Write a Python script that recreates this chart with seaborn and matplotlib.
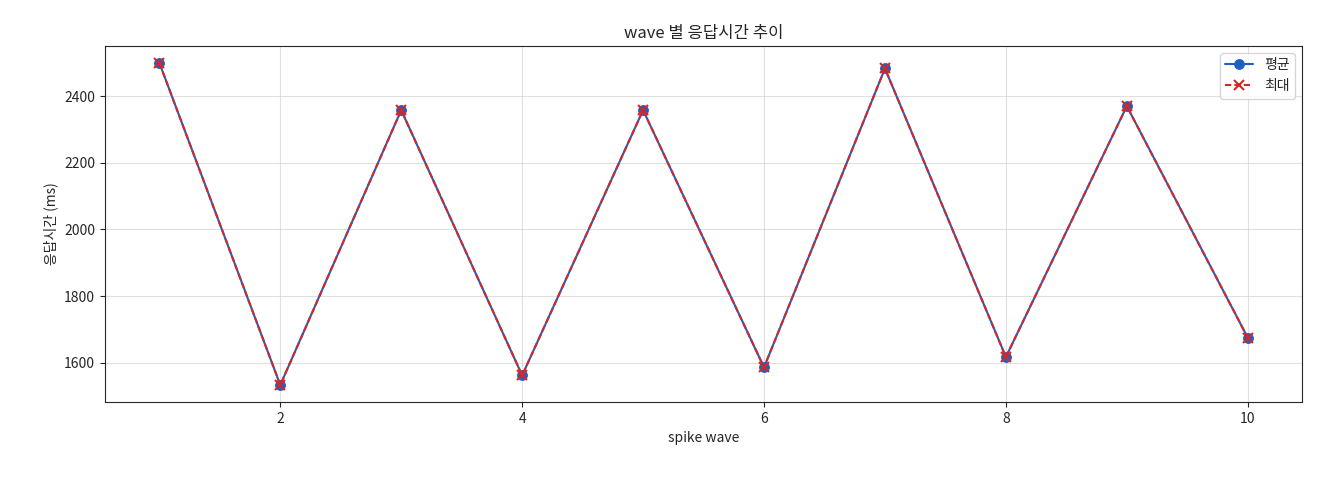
import matplotlib
matplotlib.use("Agg")
import matplotlib.pyplot as plt
import seaborn as sns
import pandas as pd

waves = [1, 2, 3, 4, 5, 6, 7, 8, 9, 10]
avg_ms = [2500, 1533, 2358, 1562, 2358, 1586, 2483, 1617, 2370, 1675]
max_ms = [2500, 1533, 2358, 1562, 2358, 1586, 2483, 1617, 2370, 1675]

sns.set_style("ticks")
plt.rcParams['font.family'] = ['Noto Sans CJK KR', 'DejaVu Sans']
plt.rcParams['axes.unicode_minus'] = False

df = pd.DataFrame({"wave": waves, "avg": avg_ms, "max": max_ms})
fig = plt.figure(figsize=(13.2, 4.8), dpi=100)
ax = fig.add_axes([0.0795, 0.1625, 0.907, 0.742])
sns.lineplot(data=df, x="wave", y="avg", ax=ax, color="#1f5fbf", marker="o",
             markersize=7, markeredgecolor="#1f5fbf", label="평균", linewidth=1.5)
sns.lineplot(data=df, x="wave", y="max", ax=ax, color="#d62728", marker="x",
             markersize=7, markeredgecolor="#d62728", markeredgewidth=1.5,
             label="최대", linewidth=1.5)
lines = ax.get_lines()
lines[1].set_linestyle((0, (3, 1.5)))
ax.set_xlim(0.55, 10.45)
ax.set_ylim(1482, 2551)
ax.set_xticks([2, 4, 6, 8, 10])
ax.tick_params(labelsize=10)
ax.grid(True, color="#cccccc", alpha=0.6)
ax.set_title("wave 별 응답시간 추이", fontsize=12)
ax.set_xlabel("spike wave", fontsize=10)
ax.set_ylabel("응답시간 (ms)", fontsize=10)
ax.legend(handles=lines, labels=["평균", "최대"], loc="upper right", fontsize=10)
fig.savefig("out.png", dpi=100)
